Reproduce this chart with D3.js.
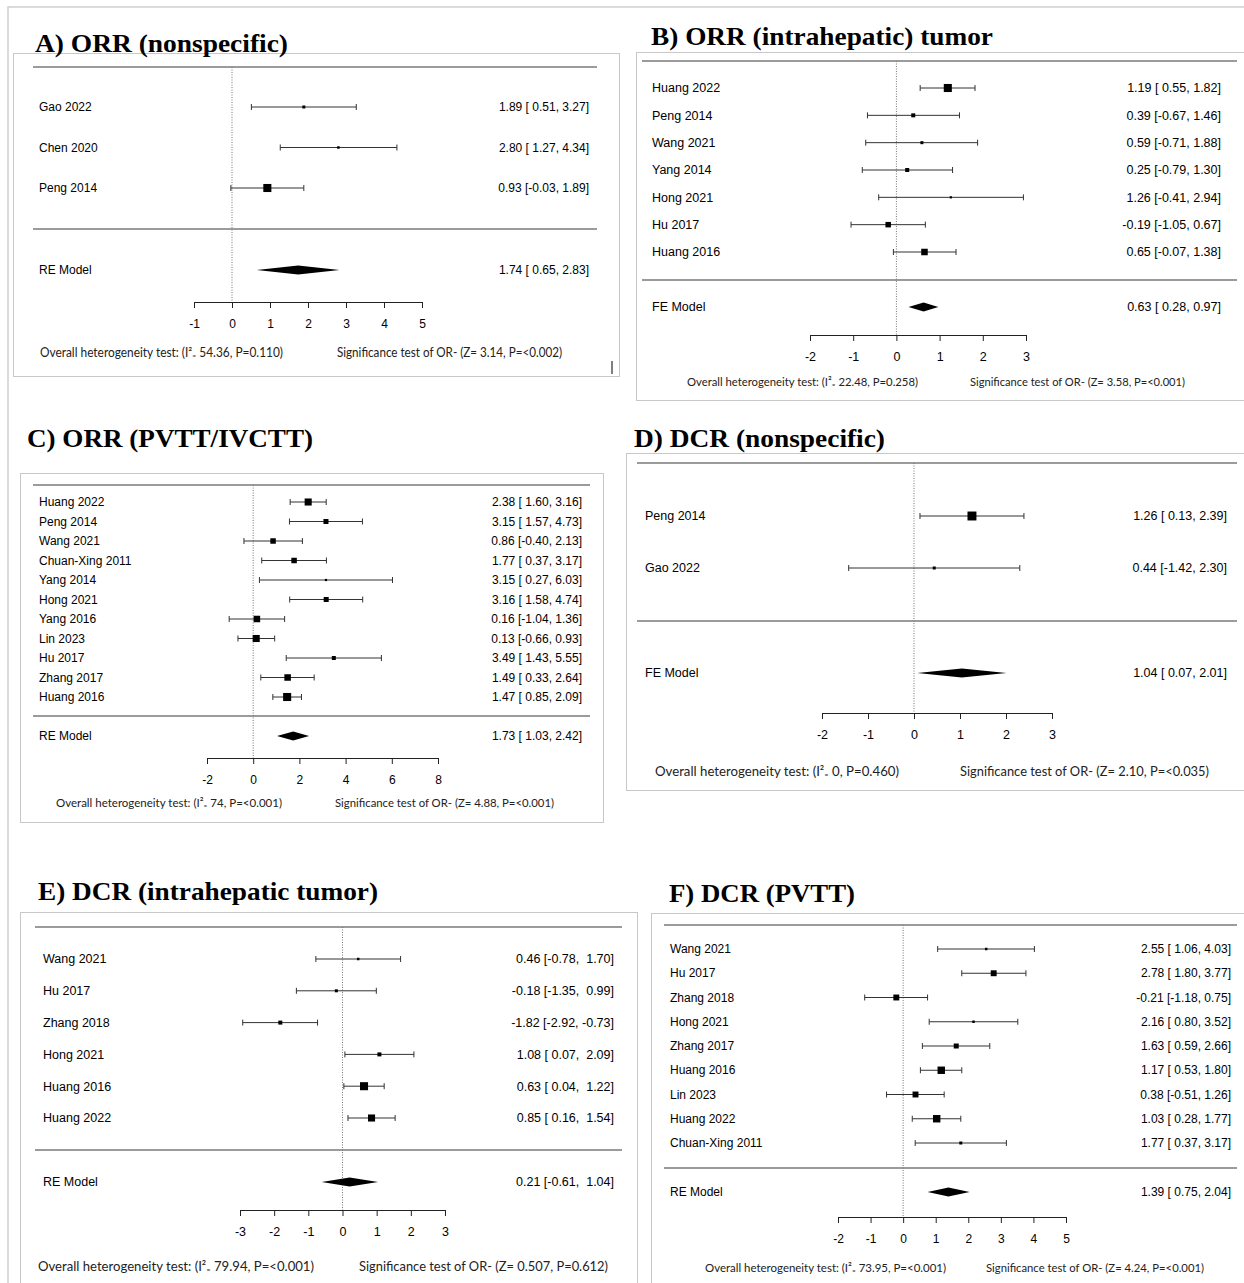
<!DOCTYPE html>
<html>
<head>
<meta charset="utf-8">
<script src="https://cdn.jsdelivr.net/npm/d3@7"></script>
<style>
  body { margin: 0; background: #fff; }
  text { white-space: pre; }
</style>
</head>
<body>
<svg id="chart" width="1244" height="1283"></svg>
<script>
// ---- A) ORR (nonspecific)
const aTitle = "A) ORR (nonspecific)";
const aStudies = ["Gao 2022", "Chen 2020", "Peng 2014"];
const aEst = [1.89, 2.80, 0.93];
const aLo = [0.51, 1.27, -0.03];
const aHi = [3.27, 4.34, 1.89];
const aWeight = [3.6, 2.5, 26];
const aModel = ["RE Model", 1.74, 0.65, 2.83];
const aTicks = [-1, 0, 1, 2, 3, 4, 5];
const aHet = ["54.36", "P=0.110"];
const aSig = ["3.14", "P=<0.002"];

// ---- B) ORR (intrahepatic) tumor
const bTitle = "B) ORR (intrahepatic) tumor";
const bStudies = ["Huang 2022", "Peng 2014", "Wang 2021", "Yang 2014", "Hong 2021", "Hu 2017", "Huang 2016"];
const bEst = [1.19, 0.39, 0.59, 0.25, 1.26, -0.19, 0.65];
const bLo = [0.55, -0.67, -0.71, -0.79, -0.41, -1.05, -0.07];
const bHi = [1.82, 1.46, 1.88, 1.30, 2.94, 0.67, 1.38];
const bWeight = [26, 6.4, 3.6, 6.4, 2, 12, 17];
const bModel = ["FE Model", 0.63, 0.28, 0.97];
const bTicks = [-2, -1, 0, 1, 2, 3];
const bHet = ["22.48", "P=0.258"];
const bSig = ["3.58", "P=<0.001"];

// ---- C) ORR (PVTT/IVCTT)
const cTitle = "C) ORR (PVTT/IVCTT)";
const cStudies = ["Huang 2022", "Peng 2014", "Wang 2021", "Chuan-Xing 2011", "Yang 2014", "Hong 2021",
  "Yang 2016", "Lin 2023", "Hu 2017", "Zhang 2017", "Huang 2016"];
const cEst = [2.38, 3.15, 0.86, 1.77, 3.15, 3.16, 0.16, 0.13, 3.49, 1.49, 1.47];
const cLo = [1.60, 1.57, -0.40, 0.37, 0.27, 1.58, -1.04, -0.66, 1.43, 0.33, 0.85];
const cHi = [3.16, 4.73, 2.13, 3.17, 6.03, 4.74, 1.36, 0.93, 5.55, 2.64, 2.09];
const cWeight = [20, 10, 12, 12, 2, 10, 17, 20, 6.4, 17, 26];
const cModel = ["RE Model", 1.73, 1.03, 2.42];
const cTicks = [-2, 0, 2, 4, 6, 8];
const cHet = ["74", "P=<0.001"];
const cSig = ["4.88", "P=<0.001"];

// ---- D) DCR (nonspecific)
const dTitle = "D) DCR (nonspecific)";
const dStudies = ["Peng 2014", "Gao 2022"];
const dEst = [1.26, 0.44];
const dLo = [0.13, -1.42];
const dHi = [2.39, 2.30];
const dWeight = [32, 3.6];
const dModel = ["FE Model", 1.04, 0.07, 2.01];
const dTicks = [-2, -1, 0, 1, 2, 3];
const dHet = ["0", "P=0.460"];
const dSig = ["2.10", "P=<0.035"];

// ---- E) DCR (intrahepatic tumor)
const eTitle = "E) DCR (intrahepatic tumor)";
const eStudies = ["Wang 2021", "Hu 2017", "Zhang 2018", "Hong 2021", "Huang 2016", "Huang 2022"];
const eEst = [0.46, -0.18, -1.82, 1.08, 0.63, 0.85];
const eLo = [-0.78, -1.35, -2.92, 0.07, 0.04, 0.16];
const eHi = [1.70, 0.99, -0.73, 2.09, 1.22, 1.54];
const eWeight = [2.5, 3.6, 6.4, 6.4, 26, 20];
const eModel = ["RE Model", 0.21, -0.61, 1.04];
const eTicks = [-3, -2, -1, 0, 1, 2, 3];
const eHet = ["79.94", "P=<0.001"];
const eSig = ["0.507", "P=0.612"];

// ---- F) DCR (PVTT)
const fTitle = "F) DCR (PVTT)";
const fStudies = ["Wang 2021", "Hu 2017", "Zhang 2018", "Hong 2021", "Zhang 2017", "Huang 2016",
  "Lin 2023", "Huang 2022", "Chuan-Xing 2011"];
const fEst = [2.55, 2.78, -0.21, 2.16, 1.63, 1.17, 0.38, 1.03, 1.77];
const fLo = [1.06, 1.80, -1.18, 0.80, 0.59, 0.53, -0.51, 0.28, 0.37];
const fHi = [4.03, 3.77, 0.75, 3.52, 2.66, 1.80, 1.26, 1.77, 3.17];
const fWeight = [2.5, 14, 14, 2.5, 10, 22, 14, 22, 3.6];
const fModel = ["RE Model", 1.39, 0.75, 2.04];
const fTicks = [-2, -1, 0, 1, 2, 3, 4, 5];
const fHet = ["73.95", "P=<0.001"];
const fSig = ["4.24", "P=<0.001"];

// layout of each panel on the page (pixels)
const panels = [
  { title: aTitle, studies: aStudies, est: aEst, lo: aLo, hi: aHi, w: aWeight, model: aModel, ticks: aTicks, het: aHet, sig: aSig,
    box: [13, 53, 619, 376], tx: 35, ty: 52, tw: 253, sep: [33, 597], sepY: [67, 229], rows: [107, 188], modelY: 270,
    axisY: 302, range: [194, 422], labelX: 39, valueX: 589, fs: 12,
    footY: 353, f1: [40, 243], f2: [337, 225], ffs: 12.5 },
  { title: bTitle, studies: bStudies, est: bEst, lo: bLo, hi: bHi, w: bWeight, model: bModel, ticks: bTicks, het: bHet, sig: bSig,
    box: [636, 52, 1250, 400], tx: 651, ty: 45, tw: 342, sep: [642, 1237], sepY: [61, 280], rows: [88, 252], modelY: 307,
    axisY: 335, range: [810, 1026], labelX: 652, valueX: 1221, fs: 12.5,
    footY: 382, f1: [687, 231], f2: [970, 215], ffs: 12 },
  { title: cTitle, studies: cStudies, est: cEst, lo: cLo, hi: cHi, w: cWeight, model: cModel, ticks: cTicks, het: cHet, sig: cSig,
    box: [20, 473, 603, 822], tx: 27, ty: 447, tw: 286, sep: [33, 590], sepY: [485, 716], rows: [502, 697], modelY: 736,
    axisY: 758, range: [207, 438], labelX: 39, valueX: 582, fs: 12,
    footY: 803, f1: [56, 226], f2: [335, 219], ffs: 12 },
  { title: dTitle, studies: dStudies, est: dEst, lo: dLo, hi: dHi, w: dWeight, model: dModel, ticks: dTicks, het: dHet, sig: dSig,
    box: [626, 453, 1250, 790], tx: 634, ty: 447, tw: 251, sep: [637, 1237], sepY: [463, 621], rows: [516, 568], modelY: 673,
    axisY: 713, range: [822, 1052], labelX: 645, valueX: 1227, fs: 12.5,
    footY: 771, f1: [655, 244], f2: [960, 249], ffs: 14 },
  { title: eTitle, studies: eStudies, est: eEst, lo: eLo, hi: eHi, w: eWeight, model: eModel, ticks: eTicks, het: eHet, sig: eSig,
    box: [20, 912, 637, 1295], tx: 38, ty: 900, tw: 340, sep: [35, 622], sepY: [927, 1150], rows: [959, 1118], modelY: 1182,
    axisY: 1210, range: [240, 445], labelX: 43, valueX: 614, fs: 12.5,
    footY: 1266, f1: [38, 276], f2: [359, 249], ffs: 14 },
  { title: fTitle, studies: fStudies, est: fEst, lo: fLo, hi: fHi, w: fWeight, model: fModel, ticks: fTicks, het: fHet, sig: fSig,
    box: [651, 913, 1250, 1295], tx: 669, ty: 902, tw: 186, sep: [664, 1237], sepY: [925, 1168], rows: [949, 1143], modelY: 1192,
    axisY: 1217, range: [838, 1066], labelX: 670, valueX: 1231, fs: 12,
    footY: 1268, f1: [705, 241], f2: [986, 218], ffs: 12 }
];

const svg = d3.select("#chart");
const sans = "'Liberation Sans', Arial, sans-serif";
const serif = "'Liberation Serif', 'Times New Roman', serif";
const narrow = "Lato, 'Open Sans', sans-serif";

// outer frame of the figure
svg.append("path")
  .attr("d", "M8,1283 V7 H1244")
  .attr("fill", "none").attr("stroke", "#cfcfcf").attr("stroke-width", 1.5);

const sizeScale = d3.scaleSqrt().domain([0, 40]).range([0, 10]);

// pad a column so positive numbers line up with negative ones
function column(vals) {
  const s = vals.map(v => v.toFixed(2));
  const neg = vals.some(v => v < 0);
  return s.map(t => (neg && t[0] !== "-") ? " " + t : t);
}

function drawForest(p) {
  const g = svg.append("g");
  const x = d3.scaleLinear().domain(d3.extent(p.ticks)).range(p.range);
  const n = p.studies.length;
  const y = d3.scaleLinear().domain([0, Math.max(1, n - 1)]).range(p.rows);

  // panel box
  g.append("rect")
    .attr("x", p.box[0] + 0.5).attr("y", p.box[1] + 0.5)
    .attr("width", p.box[2] - p.box[0]).attr("height", p.box[3] - p.box[1])
    .attr("fill", "#fff").attr("stroke", "#c8c8c8").attr("stroke-width", 1);

  // title
  g.append("text")
    .attr("x", p.tx).attr("y", p.ty)
    .attr("textLength", p.tw).attr("lengthAdjust", "spacingAndGlyphs")
    .style("font-family", serif).style("font-weight", "bold").style("font-size", "26px")
    .text(p.title);

  // separators
  g.selectAll(".sep").data(p.sepY).enter().append("line")
    .attr("x1", p.sep[0]).attr("x2", p.sep[1])
    .attr("y1", d => d).attr("y2", d => d)
    .attr("stroke", "#7a7a7a").attr("stroke-width", 1.6);

  // reference line at 0
  g.append("line")
    .attr("x1", x(0)).attr("x2", x(0))
    .attr("y1", p.sepY[0]).attr("y2", p.axisY)
    .attr("stroke", "#777").attr("stroke-width", 1).attr("stroke-dasharray", "1,1.5");

  const lo = column(p.lo.concat([p.model[2]]));
  const hi = column(p.hi.concat([p.model[3]]));
  const est = p.est.concat([p.model[1]]).map(v => v.toFixed(2));

  const rows = p.studies.map((s, i) => ({ name: s, est: p.est[i], lo: p.lo[i], hi: p.hi[i], w: p.w[i], i: i }));

  // CI lines with end caps
  const ci = g.selectAll(".ci").data(rows).enter().append("g").attr("class", "ci");
  ci.append("line")
    .attr("x1", d => x(d.lo)).attr("x2", d => x(d.hi))
    .attr("y1", d => y(d.i)).attr("y2", d => y(d.i))
    .attr("stroke", "#333").attr("stroke-width", 1);
  ci.append("line")
    .attr("x1", d => x(d.lo)).attr("x2", d => x(d.lo))
    .attr("y1", d => y(d.i) - 3).attr("y2", d => y(d.i) + 3)
    .attr("stroke", "#333").attr("stroke-width", 1);
  ci.append("line")
    .attr("x1", d => x(d.hi)).attr("x2", d => x(d.hi))
    .attr("y1", d => y(d.i) - 3).attr("y2", d => y(d.i) + 3)
    .attr("stroke", "#333").attr("stroke-width", 1);
  ci.append("rect")
    .attr("x", d => x(d.est) - sizeScale(d.w) / 2)
    .attr("y", d => y(d.i) - sizeScale(d.w) / 2)
    .attr("width", d => sizeScale(d.w)).attr("height", d => sizeScale(d.w))
    .attr("fill", "#000");

  // study labels and values
  g.selectAll(".lab").data(rows).enter().append("text")
    .attr("x", p.labelX).attr("y", d => y(d.i)).attr("dy", "0.35em")
    .style("font-family", sans).style("font-size", p.fs + "px").attr("fill", "#000")
    .text(d => d.name);
  g.selectAll(".val").data(rows).enter().append("text")
    .attr("x", p.valueX).attr("y", d => y(d.i)).attr("dy", "0.35em")
    .attr("text-anchor", "end")
    .style("font-family", sans).style("font-size", p.fs + "px").attr("fill", "#000")
    .text(d => est[d.i] + " [" + lo[d.i] + ", " + hi[d.i] + "]");

  // summary diamond
  const m = p.model;
  g.append("polygon")
    .attr("points", [[x(m[2]), p.modelY], [x(m[1]), p.modelY - 4.5], [x(m[3]), p.modelY], [x(m[1]), p.modelY + 4.5]].join(" "))
    .attr("fill", "#000");
  g.append("text")
    .attr("x", p.labelX).attr("y", p.modelY).attr("dy", "0.35em")
    .style("font-family", sans).style("font-size", p.fs + "px").attr("fill", "#000")
    .text(m[0]);
  g.append("text")
    .attr("x", p.valueX).attr("y", p.modelY).attr("dy", "0.35em")
    .attr("text-anchor", "end")
    .style("font-family", sans).style("font-size", p.fs + "px").attr("fill", "#000")
    .text(est[n] + " [" + lo[n] + ", " + hi[n] + "]");

  // x axis
  const ax = g.append("g")
    .attr("transform", `translate(0,${p.axisY})`)
    .call(d3.axisBottom(x).tickValues(p.ticks).tickSize(6).tickSizeOuter(6).tickPadding(11).tickFormat(d3.format("d")));
  ax.select(".domain").attr("stroke", "#222");
  ax.selectAll(".tick line").attr("stroke", "#222");
  ax.selectAll("text")
    .style("font-family", sans).style("font-size", p.fs + "px").attr("fill", "#000")
    .text(d => String(d).replace("\u2212", "-"));

  // footer statistics
  g.append("text")
    .attr("x", p.f1[0]).attr("y", p.footY).attr("dy", "0.35em")
    .attr("textLength", p.f1[1]).attr("lengthAdjust", "spacingAndGlyphs")
    .style("font-family", narrow).style("font-size", p.ffs + "px").attr("fill", "#222")
    .text("Overall heterogeneity test: (I\u00B2\u208C " + p.het[0] + ", " + p.het[1] + ")");

  g.append("text")
    .attr("x", p.f2[0]).attr("y", p.footY).attr("dy", "0.35em")
    .attr("textLength", p.f2[1]).attr("lengthAdjust", "spacingAndGlyphs")
    .style("font-family", narrow).style("font-size", p.ffs + "px").attr("fill", "#222")
    .text("Significance test of OR- (Z= " + p.sig[0] + ", " + p.sig[1] + ")");
}

panels.forEach(drawForest);

// small stray mark in panel A's corner
svg.append("line")
  .attr("x1", 612).attr("x2", 612).attr("y1", 361).attr("y2", 374)
  .attr("stroke", "#555").attr("stroke-width", 1.5);
</script>
</body>
</html>
